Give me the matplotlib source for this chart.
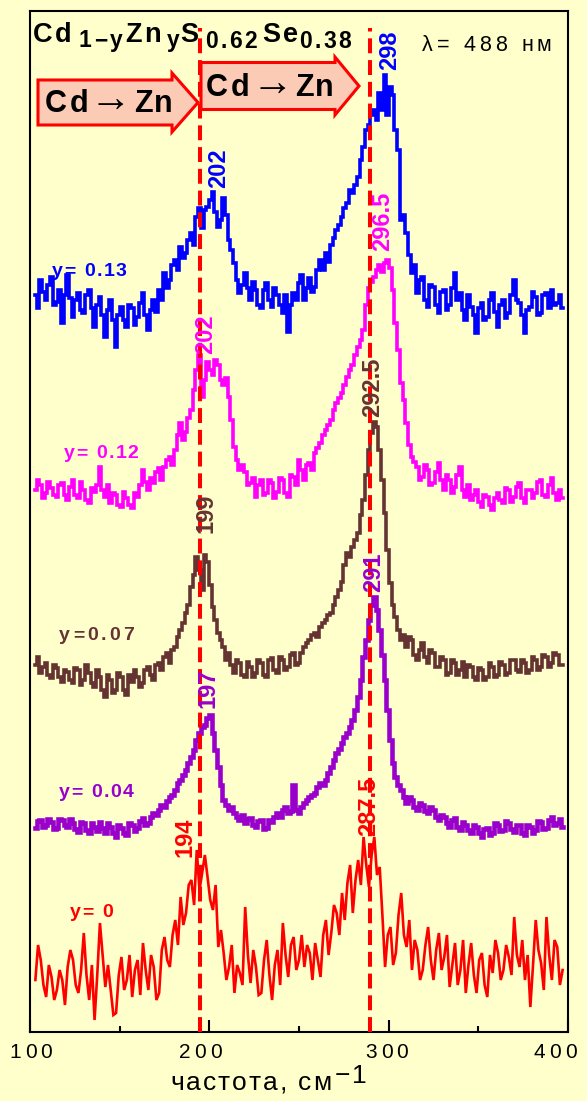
import matplotlib
matplotlib.use("Agg")
import matplotlib.pyplot as plt
from matplotlib.patches import FancyArrow

# Raman spectra of Cd(1-y)Zn(y)S(0.62)Se(0.38), excitation 488 nm
wavenumber = [103, 104.5, 106, 107.5, 109, 110.5, 112, 113.5, 115, 116.5,
              118, 119.5, 121, 122.5, 124, 125.5, 127, 128.5, 130, 131.5,
              133, 134.5, 136, 137.5, 139, 140.5, 142, 143.5, 145, 146.5,
              148, 149.5, 151, 152.5, 154, 155.5, 157, 158.5, 160, 161.5,
              163, 164.5, 166, 167.5, 169, 170.5, 172, 173.5, 175, 176.5,
              178, 179.5, 181, 182.5, 184, 185.5, 187, 188.5, 190, 191.5,
              193, 194.5, 196, 197.5, 199, 200.5, 202, 203.5, 205, 206.5,
              208, 209.5, 211, 212.5, 214, 215.5, 217, 218.5, 220, 221.5,
              223, 224.5, 226, 227.5, 229, 230.5, 232, 233.5, 235, 236.5,
              238, 239.5, 241, 242.5, 244, 245.5, 247, 248.5, 250, 251.5,
              253, 254.5, 256, 257.5, 259, 260.5, 262, 263.5, 265, 266.5,
              268, 269.5, 271, 272.5, 274, 275.5, 277, 278.5, 280, 281.5,
              283, 284.5, 286, 287.5, 289, 290.5, 292, 293.5, 295, 296.5,
              298, 299.5, 301, 302.5, 304, 305.5, 307, 308.5, 310, 311.5,
              313, 314.5, 316, 317.5, 319, 320.5, 322, 323.5, 325, 326.5,
              328, 329.5, 331, 332.5, 334, 335.5, 337, 338.5, 340, 341.5,
              343, 344.5, 346, 347.5, 349, 350.5, 352, 353.5, 355, 356.5,
              358, 359.5, 361, 362.5, 364, 365.5, 367, 368.5, 370, 371.5,
              373, 374.5, 376, 377.5, 379, 380.5, 382, 383.5, 385, 386.5,
              388, 389.5, 391, 392.5, 394, 395.5, 397]

int_y013 = [5, -8, 20, 8, 0, 15, 23, -5, -2, 10,
            -23, 5, 25, 2, -17, 0, 7, -10, -13, 5,
            10, -8, -27, -5, 3, -15, -37, -10, 0, -20,
            -47, -15, -7, -20, -27, -5, -8, -25, -17, -3,
            7, -15, -30, -10, 0, -12, 10, 0, 27, 12,
            20, 35, 40, 30, 53, 42, 47, 60, 67, 55,
            83, 92, 72, 90, 93, 100, 108, 88, 73, 80,
            102, 85, 60, 50, 37, 20, 7, 15, 27, 12,
            0, 18, 10, -5, -8, 10, 17, 0, -7, 12,
            5, -5, -13, 5, -32, -5, 7, 0, 17, 25,
            0, 12, 22, 8, 13, 30, 40, 30, 47, 38,
            55, 62, 70, 75, 83, 92, 97, 110, 107, 115,
            123, 140, 153, 170, 175, 185, 190, 180, 207, 190,
            225, 185, 213, 205, 170, 150, 80, 85, 67, 45,
            27, 35, 7, 20, 23, 0, -7, 15, 13, -5,
            -13, 8, 10, -10, -5, 12, 27, 0, 7, -10,
            -20, 5, -7, -15, -33, -8, -3, -20, -17, 0,
            7, -12, -27, -5, 0, -18, -13, 5, 20, 0,
            -3, -15, -33, -10, -7, 8, 3, -15, -13, 5,
            7, -8, 10, -5, -3, 5, -8]
int_y012 = [0, 10, 5, -8, -3, 8, 2, -5, -7, 5,
            7, -5, -10, 3, 10, -5, -8, 8, 0, -10,
            -13, 2, -2, 5, 23, 0, -7, 5, -13, -3,
            -5, -15, -17, -2, -8, -15, -18, -3, -7, 5,
            20, 8, 0, 12, 7, 18, 22, 10, 23, 30,
            33, 25, 40, 55, 67, 50, 58, 72, 80, 100,
            120, 135, 93, 110, 128, 120, 115, 130, 125, 110,
            105, 112, 93, 70, 43, 30, 20, 25, 18, 5,
            7, 12, -7, 5, 10, -5, -3, 10, 7, -8,
            -2, 12, 10, -3, -7, 15, 13, 5, 30, 20,
            10, 25, 27, 20, 37, 42, 47, 55, 60, 65,
            70, 80, 87, 92, 97, 105, 113, 120, 125, 135,
            143, 150, 160, 185, 202, 208, 213, 220, 225, 218,
            227, 230, 222, 200, 167, 140, 107, 90, 67, 45,
            33, 28, 23, 10, 13, 25, 20, 5, 7, 18,
            27, 10, 0, 15, 10, -3, 3, 15, 23, 0,
            -7, 5, -10, -5, 0, -12, -17, -5, -7, -15,
            -20, -8, -3, -10, -13, 2, 0, -12, -7, 3,
            7, -8, -13, 0, 0, -8, -3, 8, 10, -5,
            -7, 5, 12, -3, -10, 0, -8]
int_y007 = [0, 8, -8, -2, 2, -10, -13, 0, -3, -12,
            -17, -5, -7, -15, -18, -3, -5, -20, -15, 0,
            -8, -18, -22, -5, -12, -25, -32, -10, -15, -28,
            -25, -8, -12, -25, -30, -10, -17, -5, -12, -22,
            -18, -5, -2, -10, -15, 0, 2, -5, 8, 12,
            2, 15, 18, 28, 35, 42, 52, 60, 78, 90,
            108, 95, 75, 110, 103, 80, 58, 45, 32, 25,
            18, 5, 12, 0, -8, 5, 2, -10, -12, 3,
            -2, -12, -8, 5, 2, -10, -12, 5, 7, -5,
            -8, 8, 5, -5, -2, 10, 12, 0, 2, 12,
            18, 22, 25, 30, 32, 28, 38, 42, 45, 50,
            52, 60, 68, 75, 83, 100, 112, 108, 118, 125,
            132, 150, 165, 190, 215, 232, 243, 238, 215, 185,
            152, 115, 82, 60, 48, 35, 25, 30, 18, 28,
            25, 10, 5, 15, 22, 8, 2, 15, 12, -2,
            -2, 8, 5, -10, -8, 5, 2, -10, -5, 3,
            -12, 0, -2, -12, -15, -3, -5, -15, -12, 2,
            -2, -12, -10, 3, 0, -10, -8, 5, 5, -5,
            -7, 5, 2, -8, -5, 8, 5, -5, -2, 10,
            8, -2, 2, 12, 10, 0, 0]
int_y004 = [-3, 4, 5, -2, 0, 6, 3, -4, -3, 6,
            5, 0, -2, 6, 2, -4, -7, 3, 2, -5,
            -8, 2, -2, -6, 3, -3, -8, 2, -2, -8,
            -12, 0, -3, -8, -10, 2, 0, -6, -3, 4,
            7, 0, 2, 8, 12, 10, 15, 20, 18, 24,
            28, 30, 35, 42, 45, 50, 55, 62, 68, 75,
            85, 92, 98, 100, 107, 110, 92, 75, 58, 40,
            25, 20, 15, 18, 12, 8, 5, 10, 2, 6,
            7, 0, -2, 4, 5, -4, -3, 5, 3, 8,
            12, 8, 15, 18, 12, 14, 40, 15, 12, 18,
            22, 25, 28, 30, 32, 38, 42, 40, 45, 52,
            58, 65, 72, 76, 82, 88, 92, 98, 105, 115,
            128, 145, 168, 185, 205, 220, 228, 215, 195, 170,
            145, 115, 85, 62, 48, 40, 35, 28, 22, 28,
            25, 18, 15, 22, 20, 14, 12, 18, 15, 8,
            5, 10, 8, 2, -2, 5, 7, -2, -5, 3,
            0, -5, -8, 0, -2, -8, -12, -4, -3, -10,
            -8, 2, 0, -6, -5, 4, 2, -4, -7, 0,
            0, -8, -10, 0, -2, -8, -5, 4, 3, -4,
            -3, 5, 8, 0, 2, 6, -2]
int_y000 = [-5, 30, 15, -10, -22, 10, -2, -25, -15, 5,
            -5, -30, 8, 25, 15, -10, -18, 5, 42, 0,
            -25, 10, -45, 0, 52, 20, -12, 10, -15, -40,
            -38, 0, 18, -15, -5, 20, -22, 5, 15, -20,
            32, 5, -15, 20, 8, -25, -18, 25, 38, 15,
            8, 40, 55, 30, 78, 50, 62, 90, 95, 70,
            125, 85, 102, 120, 98, 75, 65, 90, 28, 45,
            22, -5, 8, 30, -18, 10, 2, -10, 68, 20,
            -8, 25, 8, -20, -18, 15, 35, 0, -25, 10,
            25, -10, 52, 20, -2, 30, 38, 5, 15, 40,
            8, 30, 22, -5, 32, 15, -2, 40, 55, 20,
            42, 70, 62, 40, 82, 55, 92, 110, 62, 95,
            115, 90, 138, 110, 88, 120, 138, 100, 108, 60,
            8, 40, 48, 10, 22, 60, 82, 40, 28, 55,
            5, 35, 25, -5, 5, 30, 48, 15, -5, 25,
            42, 5, 18, 40, -12, 10, 32, -10, 5, 35,
            -18, 10, 32, 0, -18, 15, 22, -10, -22, 20,
            2, 35, 22, -5, 5, 30, 18, 0, 58, 20,
            8, 35, -5, 20, -32, 10, 55, 25, 12, -15,
            58, 20, -5, 35, 28, -10, 5]

compositions = ["y= 0.13", "y= 0.12", "y=0.07", "y= 0.04", "y= 0"]
spectra = [int_y013, int_y012, int_y007, int_y004, int_y000]
peak_labels = [("202", "298"), ("202", "296.5"), ("199", "292.5"), ("197", "291"), ("194", "287.5")]
mode_lines = [195, 289.5]

colors = ["#0000FF", "#FF00FF", "#663333", "#9900CC", "#FF0000"]
widths = [2.6, 2.6, 2.6, 3.3, 1.9]
draw = ["steps-mid", "steps-mid", "steps-mid", "steps-mid", "default"]
stack = [732, 542, 367, 207, 57]
BG = "#FFFFCC"
SANS = ["Liberation Sans", "DejaVu Sans"]
NARROW = ["Liberation Sans Narrow", "Liberation Sans", "DejaVu Sans"]

W, H = 587, 1101
fig = plt.figure(figsize=(W / 100, H / 100), dpi=100, facecolor=BG)
ax = fig.add_axes([30 / W, 1 - 1032 / H, 538 / W, 1021 / H], facecolor=BG)

for vals, off, c, lw, ds in zip(spectra, stack, colors, widths, draw):
    assert len(vals) == len(wavenumber)
    ax.plot(wavenumber, [v + off for v in vals], color=c, lw=lw, drawstyle=ds,
            solid_joinstyle="miter", zorder=3)

ax.vlines(mode_lines, 0, 1004, colors="#FF0000", lw=2.9, linestyles=[(0, (3.7, 1.7))], zorder=4)

ax.set_xlim(100, 400)
ax.set_ylim(0, 1021)
ax.set_xticks([100, 200, 300, 400])
ax.set_xticks([150, 250, 350], minor=True)
ax.set_yticks([])
ax.tick_params(axis="x", which="both", direction="in", width=1.5, labelbottom=False, color="black")
ax.tick_params(axis="x", which="major", length=8.6)
ax.tick_params(axis="x", which="minor", length=4.3)
for s in ax.spines.values():
    s.set_linewidth(1.5)

# overlay in pixel units (origin top-left) for annotations
ov = fig.add_axes([0, 0, 1, 1], zorder=5)
ov.set_xlim(0, W)
ov.set_ylim(H, 0)
ov.axis("off")
ov.patch.set_alpha(0)
renderer = fig.canvas.get_renderer()


def tracked(x, y, s, size, track, **kw):
    """Write s char by char with extra letter spacing (pixels)."""
    for ch in s:
        if ch == " ":
            x += 0.28 * size * 100 / 72 + track
            continue
        t = ov.text(x, y, ch, fontsize=size, ha="left", va="baseline", family=SANS, **kw)
        x += t.get_window_extent(renderer).width + track
    return x


# formula
for txt, x0, base, size in [("Cd", 33, 42, 19.5), ("1−y", 79, 47, 16.5), ("Zn", 125, 42, 19.5),
                            ("y", 167, 47, 16.5), ("S", 180, 42, 19.5), ("0.62", 205, 48, 16.5),
                            ("Se", 262, 42, 19.5), ("0.38", 299, 48, 16.5)]:
    tracked(x0, base, txt, size, 2.5, weight="bold", color="black")

tracked(422, 51, "λ= 488 нм", 15.5, 4, color="black")

# substitution arrows
for x0, yc, length, bw, hw, hl in [(38, 102.5, 160, 45, 59, 26), (201, 86, 158, 47, 58, 24)]:
    ov.add_patch(FancyArrow(x0, yc, length, 0, width=bw, head_width=hw, head_length=hl,
                            length_includes_head=True, fc="#FBCBB5", ec="#FF0000", lw=2.2))
for dx, base in [(0, 112), (161, 96)]:
    tracked(45 + dx, base, "C", 22, 0, weight="bold", color="black")
    tracked(70 + dx, base, "d", 22, 0, weight="bold", color="black")
    tracked(90 + dx, base - 1, "→", 30, 0, color="black")
    tracked(134 + dx, base, "Zn", 22, 1.5, weight="bold", color="black")

# composition labels
for txt, c, x0, base, tr in zip(compositions, colors, [52, 64, 59, 59, 70],
                                [276, 458, 640, 797, 917], [1.5, 1.5, 3, 1.5, 1.5]):
    tracked(x0, base, txt, 14, tr, weight="bold", color=c)

# peak positions, written vertically
low_pos = [(219, 168), (206, 334), (206, 513), (208, 688), (185, 837)]
high_pos = [(390, 50), (383, 221), (373, 387), (374, 572), (369, 806)]
for (lo, hi), c, p1, p2 in zip(peak_labels, colors, low_pos, high_pos):
    for lab, (px, py) in [(lo, p1), (hi, p2)]:
        ov.text(px, py, lab, rotation=90, ha="center", va="center", fontsize=17,
                weight="bold", color=c, family=NARROW)

# axis tick labels and title
for lab, x0 in zip(["100", "200", "300", "400"], [9, 179, 365, 534]):
    tracked(x0, 1058, lab, 15, 4, color="black")
xe = tracked(170, 1090, "частота, см", 19, 2, color="black")
tracked(xe + 1, 1083, "−1", 19, 2, color="black")

fig.savefig("out.png", dpi=100, facecolor=BG)
